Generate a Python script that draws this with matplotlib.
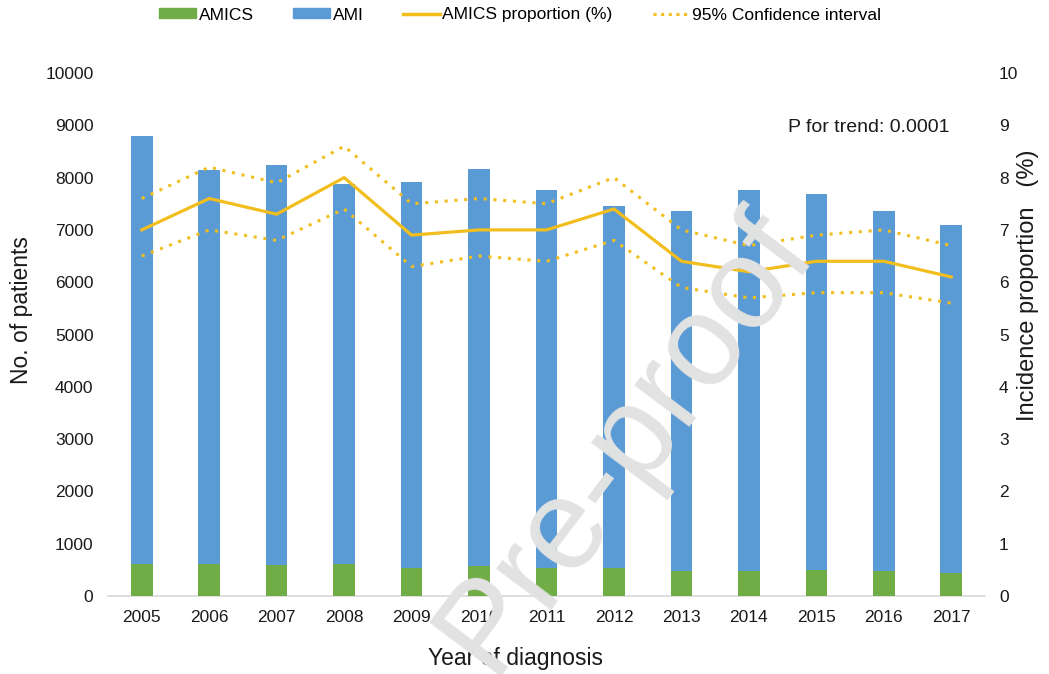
import matplotlib
matplotlib.use("Agg")
import matplotlib.pyplot as plt
from matplotlib.lines import Line2D
from matplotlib.patches import Patch

plt.rcParams['font.family'] = ['Liberation Sans', 'DejaVu Sans']

years = ["2005", "2006", "2007", "2008", "2009", "2010", "2011",
         "2012", "2013", "2014", "2015", "2016", "2017"]
ami = [8800, 8150, 8240, 7880, 7920, 8170, 7760, 7460, 7360, 7760, 7690, 7370, 7100]
amics = [615, 610, 600, 620, 545, 575, 540, 545, 470, 470, 490, 470, 440]
proportion = [7.0, 7.6, 7.3, 8.0, 6.9, 7.0, 7.0, 7.4, 6.4, 6.2, 6.4, 6.4, 6.1]
ci_upper = [7.6, 8.2, 7.9, 8.6, 7.5, 7.6, 7.5, 8.0, 7.0, 6.7, 6.9, 7.0, 6.7]
ci_lower = [6.5, 7.0, 6.8, 7.4, 6.3, 6.5, 6.4, 6.8, 5.9, 5.7, 5.8, 5.8, 5.6]
left_ticks = [0, 1000, 2000, 3000, 4000, 5000, 6000, 7000, 8000, 9000, 10000]
right_ticks = [0, 1, 2, 3, 4, 5, 6, 7, 8, 9, 10]

blue = "#5B9BD5"
green = "#70AD47"
gold = "#F2BE1E"
text_col = "#1a1a1a"
dotted = (0, (1, 2.2))

fig = plt.figure(figsize=(10.49, 6.74), dpi=100)
ax = fig.add_axes([0.103, 0.1157, 0.836, 0.776])
x = list(range(len(years)))

ax.bar(x, ami, width=0.32, color=blue, zorder=2)
ax.bar(x, amics, width=0.32, color=green, zorder=3)

ax.set_xlim(-0.5, len(years) - 0.5)
ax.set_ylim(0, 10000)
ax.set_yticks(left_ticks)
ax.set_xticks(x)
ax.set_xticklabels(years)
ax.tick_params(axis='both', length=0, labelsize=12.5, colors=text_col)
ax.tick_params(axis='y', pad=10.5)
ax.tick_params(axis='x', pad=10)
for s in ['top', 'right', 'left']:
    ax.spines[s].set_visible(False)
ax.spines['bottom'].set_color("#d9d9d9")
ax.spines['bottom'].set_linewidth(1.2)

ax2 = ax.twinx()
ax2.set_ylim(0, 10)
ax2.set_yticks(right_ticks)
ax2.tick_params(axis='y', length=0, labelsize=12.5, colors=text_col, pad=10)
for s in ax2.spines.values():
    s.set_visible(False)
ax2.plot(x, proportion, color=gold, lw=2.3, zorder=4)
ax2.plot(x, ci_upper, color=gold, lw=2.2, ls=dotted, zorder=4)
ax2.plot(x, ci_lower, color=gold, lw=2.2, ls=dotted, zorder=4)

# axis titles
fig.text(22 / 1049, 1 - 310 / 674, "No. of patients", rotation=90, fontsize=16.5,
         color=text_col, ha='center', va='center')
fig.text(1028 / 1049, 1 - 285 / 674, "Incidence proportion   (%)", rotation=90,
         fontsize=17, color=text_col, ha='center', va='center')
fig.text(515 / 1049, 1 - 658 / 674, "Year of diagnosis", fontsize=16.5,
         color=text_col, ha='center', va='center')

fig.text(950 / 1049, 1 - 127 / 674, "P for trend: 0.0001",
         ha='right', va='center', fontsize=14, color=text_col)

handles = [Patch(color=green), Patch(color=blue),
           Line2D([0], [0], color=gold, lw=2.5),
           Line2D([0], [0], color=gold, lw=2.2, ls=(0, (1, 1.5)))]
labels = ["AMICS", "AMI", "AMICS proportion (%)", "95% Confidence interval"]
fig.legend(handles, labels, loc='center', bbox_to_anchor=(520 / 1049, 1 - 15 / 674),
           ncol=4, frameon=False, fontsize=12.5, handlelength=2.1,
           handleheight=0.5, columnspacing=2.3, handletextpad=0.15,
           borderpad=0)

fig.text(0.597, 0.344, "Pre-proof", rotation=53, fontsize=93, color="#e2e2e2",
         ha='center', va='center', zorder=10)

fig.savefig("out.png", dpi=100)
